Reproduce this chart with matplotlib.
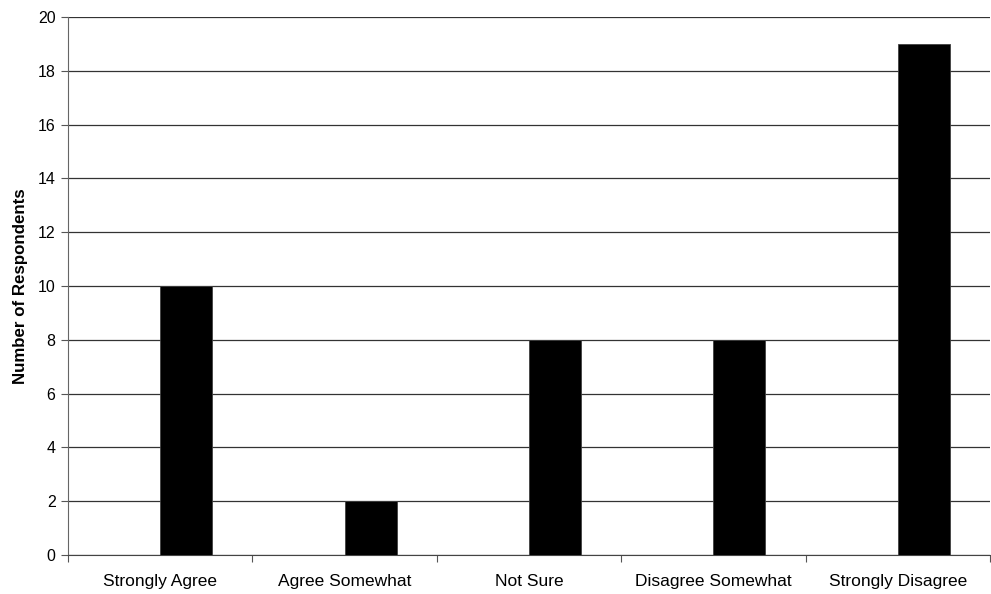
import matplotlib
matplotlib.use("Agg")
import matplotlib.pyplot as plt
import numpy as np

plt.rcParams['font.family'] = ['Liberation Sans', 'DejaVu Sans']

categories = ["Strongly Agree", "Agree Somewhat", "Not Sure", "Disagree Somewhat", "Strongly Disagree"]
respondents = [10, 2, 8, 8, 19]
y_ticks = list(range(0, 21, 2))

fig = plt.figure(figsize=(9.91, 5.94), dpi=100)
ax = fig.add_axes([68/991, 1 - 555/594, (990 - 68)/991, (555 - 17)/594])

x = np.arange(len(categories))
bar_w = 0.282
ax.bar(x, respondents, width=bar_w, align='edge', color='black', edgecolor='#404040',
       linewidth=0.6, zorder=3)

ax.set_xlim(-0.5, len(categories) - 0.5)
ax.set_ylim(0, 20)
ax.set_yticks(y_ticks)
ax.tick_params(axis='y', labelsize=11.5, length=5, width=0.8, color='#555555', pad=4)
ax.yaxis.grid(True, color='#333333', linewidth=0.9, zorder=0)
ax.set_axisbelow(True)

# category labels centered, tick marks on category boundaries
ax.set_xticks(np.arange(len(categories) + 1) - 0.5)
ax.set_xticklabels([])
ax.tick_params(axis='x', length=5, width=0.8, color='#555555')
ax.set_xticks(x, minor=True)
ax.set_xticklabels(categories, minor=True, fontsize=12.5)
ax.tick_params(axis='x', which='minor', length=0, pad=14)

for side in ['top', 'right']:
    ax.spines[side].set_visible(False)
ax.spines['left'].set_color('#666666')
ax.spines['bottom'].set_color('#444444')

ax.set_ylabel("Number of Respondents", fontsize=12.2, fontweight='bold', labelpad=7)

fig.savefig("out.png", dpi=100)
